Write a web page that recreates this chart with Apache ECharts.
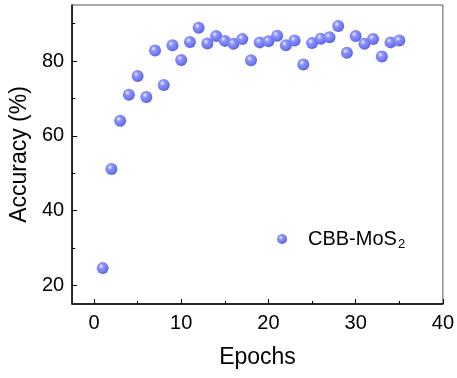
<!DOCTYPE html>
<html>
<head>
<meta charset="utf-8">
<script src="https://cdn.jsdelivr.net/npm/echarts@6/dist/echarts.min.js"></script>
<style>
html,body{margin:0;padding:0;background:#fff;}
#chart{width:457px;height:378px;}
</style>
</head>
<body>
<div id="chart"></div>
<script>
var epochs = [1,2,3,4,5,6,7,8,9,10,11,12,13,14,15,16,17,18,19,20,21,22,23,24,25,26,27,28,29,30,31,32,33,34,35];
var accuracy = [24.6,51.1,64.0,71.0,76.0,70.4,82.8,73.6,84.2,80.3,85.1,88.9,84.7,86.7,85.4,84.6,85.9,80.2,85.0,85.3,86.8,84.2,85.5,79.1,84.8,86.0,86.4,89.4,82.2,86.7,84.6,85.9,81.2,85.0,85.5];
var xMajorTicks = [0,10,20,30,40];
var xMinorTicks = [5,15,25,35];
var yMajorTicks = [20,40,60,80];
var yMinorTicks = [30,50,70,90];
var seriesName = 'CBB-MoS2';

var font = 'Liberation Sans, Arial, sans-serif';
var ballColor = {
  type: 'radial', x: 0.38, y: 0.35, r: 0.7,
  colorStops: [
    {offset: 0, color: '#eef0ff'},
    {offset: 0.3, color: '#8c93fa'},
    {offset: 0.75, color: '#6d75f0'},
    {offset: 1, color: '#5057d6'}
  ]
};

var chart = echarts.init(document.getElementById('chart'), null, {renderer: 'canvas'});
var data = epochs.map(function (e, i) { return [e, accuracy[i]]; });

chart.setOption({
  animation: false,
  backgroundColor: '#fff',
  grid: {left: 71, right: 14, top: 5, bottom: 74, show: true, borderColor: '#555', borderWidth: 1},
  legend: {
    left: 277, top: 229, padding: 0,
    itemWidth: 42, itemHeight: 10,
    icon: 'circle',
    data: [seriesName],
    formatter: function () { return 'CBB-MoS{sub|2}'; },
    textStyle: {
      fontFamily: font, fontSize: 20, color: '#000',
      rich: {sub: {fontFamily: font, fontSize: 13, color: '#000', verticalAlign: 'bottom', padding: [10, 0, 0, 1]}}
    }
  },
  xAxis: [{
    type: 'value', min: -2.5, max: 40, position: 'bottom',
    name: 'Epochs', nameLocation: 'middle', nameGap: 42,
    nameTextStyle: {fontFamily: font, fontSize: 23, color: '#000'},
    axisLine: {show: true, onZero: false, lineStyle: {color: '#000', width: 1.5}},
    axisTick: {show: true, inside: true, length: 5, customValues: xMajorTicks, lineStyle: {color: '#000', width: 1}},
    axisLabel: {customValues: xMajorTicks, margin: 9, fontFamily: font, fontSize: 20, color: '#000'},
    splitLine: {show: false}
  }, {
    type: 'value', min: -2.5, max: 40, position: 'bottom',
    axisLine: {show: false, onZero: false},
    axisTick: {show: true, inside: true, length: 3, customValues: xMinorTicks, lineStyle: {color: '#000', width: 1}},
    axisLabel: {show: false},
    splitLine: {show: false}
  }],
  yAxis: [{
    type: 'value', min: 15, max: 95, position: 'left',
    name: 'Accuracy (%)', nameLocation: 'middle', nameGap: 32,
    nameTextStyle: {fontFamily: font, fontSize: 23, color: '#000'},
    axisLine: {show: true, onZero: false, lineStyle: {color: '#000', width: 1.5}},
    axisTick: {show: true, inside: true, length: 5, customValues: yMajorTicks, lineStyle: {color: '#000', width: 1}},
    axisLabel: {customValues: yMajorTicks, margin: 8, fontFamily: font, fontSize: 20, color: '#000'},
    splitLine: {show: false}
  }, {
    type: 'value', min: 15, max: 95, position: 'left',
    axisLine: {show: false, onZero: false},
    axisTick: {show: true, inside: true, length: 3, customValues: yMinorTicks, lineStyle: {color: '#000', width: 1}},
    axisLabel: {show: false},
    splitLine: {show: false}
  }],
  series: [{
    name: seriesName,
    type: 'scatter',
    xAxisIndex: 0, yAxisIndex: 0,
    symbol: 'circle', symbolSize: 12,
    itemStyle: {color: ballColor, opacity: 1},
    data: data
  }]
});
</script>
</body>
</html>
